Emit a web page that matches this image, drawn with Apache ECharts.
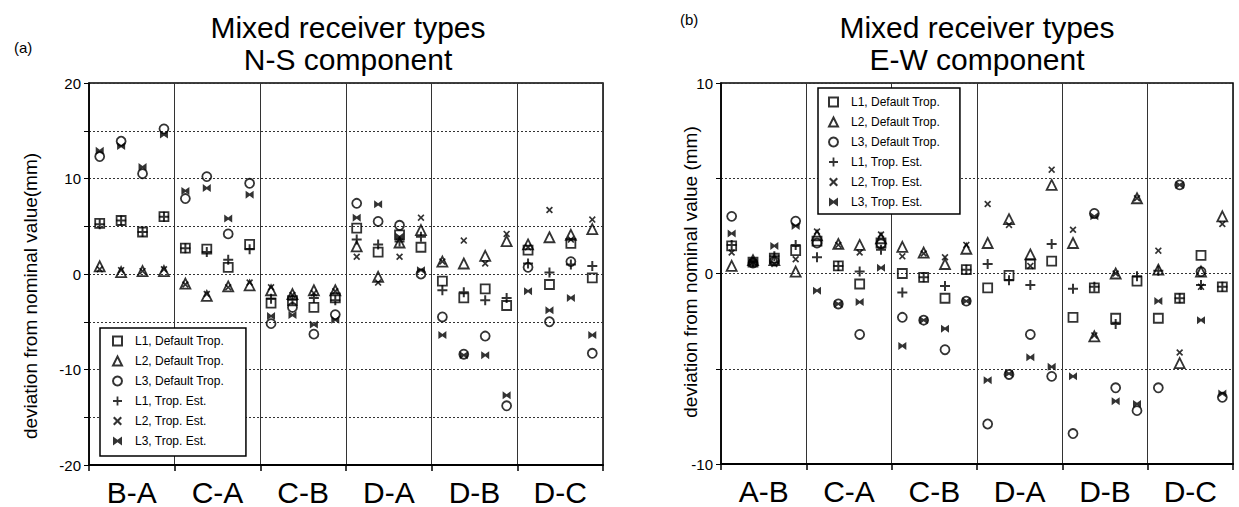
<!DOCTYPE html>
<html>
<head>
<meta charset="utf-8">
<script src="https://cdn.jsdelivr.net/npm/echarts@6/dist/echarts.min.js"></script>
<style>
html,body{margin:0;padding:0;background:#fff;}
#c{width:1239px;height:507px;}
</style>
</head>
<body>
<div id="c"></div>
<script>
// ---------- data ----------
const groupsNS = ['B-A', 'C-A', 'C-B', 'D-A', 'D-B', 'D-C'];
const groupsEW = ['A-B', 'C-A', 'C-B', 'D-A', 'D-B', 'D-C'];
const seriesNames = ['L1, Default Trop.', 'L2, Default Trop.', 'L3, Default Trop.', 'L1, Trop. Est.', 'L2, Trop. Est.', 'L3, Trop. Est.'];
const yTicksNS = [-20, -10, 0, 10, 20];
const yTicksEW = [-10, 0, 10];

// N-S component (mm), 4 baselines per group
const nsL1Default = [5.3, 5.6, 4.4, 6.0,  2.7, 2.6, 0.7, 3.1,  -3.05, -2.8, -3.5, -2.5,  4.8, 2.3, 4.1, 2.8,  -0.75, -2.5, -1.55, -3.3,  2.5, -1.1, 3.2, -0.4];
const nsL2Default = [0.8, 0.2, 0.3, 0.3,  -1.0, -2.3, -1.3, -1.2,  -1.7, -2.1, -1.7, -1.7,  2.9, -0.3, 3.3, 4.6,  1.3, 1.1, 1.9, 3.45,  3.1, 3.85, 4.1, 4.7];
const nsL3Default = [12.3, 13.9, 10.5, 15.2,  7.9, 10.2, 4.2, 9.5,  -5.2, -3.5, -6.3, -4.25,  7.4, 5.5, 5.1, 0.0,  -4.5, -8.4, -6.5, -13.8,  0.7, -5.0, 1.3, -8.3];
const nsL1TropEst = [5.2, 5.6, 4.4, 6.0,  2.7, 2.3, 1.5, 2.6,  -2.6, -2.7, -2.5, -2.75,  3.6, 3.1, 3.4, 3.9,  -1.7, -1.9, -2.75, -2.5,  1.1, 0.15, 1.0, 0.85];
const nsL2TropEst = [0.5, 0.4, 0.3, 0.5,  -1.1, -2.1, -1.4, -0.9,  -1.4, -2.2, -2.0, -1.8,  1.8, -0.9, 1.8, 5.9,  1.3, 3.5, 1.1, 4.2,  2.8, 6.7, 3.6, 5.7];
const nsL3TropEst = [12.9, 13.4, 11.2, 14.6,  8.7, 9.0, 5.8, 8.3,  -4.4, -4.3, -5.3, -4.8,  5.9, 7.3, 3.9, 0.4,  -6.4, -8.5, -8.5, -12.7,  -1.8, -3.8, -2.5, -6.4];

// E-W component (mm)
const ewL1Default = [1.45, 0.6, 0.8, 1.2,  1.7, 0.4, -0.55, 1.6,  0.0, -0.2, -1.3, 0.2,  -0.75, -0.1, 0.5, 0.65,  -2.3, -0.75, -2.35, -0.4,  -2.35, -1.3, 0.95, -0.7];
const ewL2Default = [0.4, 0.7, 0.7, 0.1,  2.0, 1.55, 1.5, 1.85,  1.4, 1.1, 0.5, 1.3,  1.6, 2.85, 1.0, 4.65,  1.6, -3.3, 0.0, 3.95,  0.2, -4.7, 0.1, 3.0];
const ewL3Default = [3.0, 0.55, 0.65, 2.75,  1.6, -1.6, -3.2, 1.55,  -2.3, -2.45, -4.0, -1.45,  -7.9, -5.3, -3.2, -5.4,  -8.4, 3.15, -6.0, -7.2,  -6.0, 4.65, 0.1, -6.5];
const ewL1TropEst = [1.5, 0.6, 0.9, 1.5,  0.85, 0.4, 0.1, 1.25,  -1.0, -0.2, -0.65, 0.2,  0.5, -0.35, -0.6, 1.55,  -0.8, -0.7, -2.65, -0.15,  0.15, -1.3, -0.6, -0.7];
const ewL2TropEst = [1.1, 0.6, 0.5, 0.75,  2.2, 1.5, 1.1, 2.05,  0.9, 1.05, 0.85, 1.5,  3.65, 2.55, 0.4, 5.45,  2.3, -3.25, 0.0, 3.95,  1.2, -4.15, -0.7, 2.6];
const ewL3TropEst = [2.1, 0.6, 1.45, 2.5,  -0.9, -1.6, -1.5, 0.3,  -3.8, -2.45, -2.9, -1.45,  -5.6, -5.25, -4.4, -4.9,  -5.4, 3.0, -6.7, -6.85,  -1.45, 4.65, -2.45, -6.3];

const nsSeries = [nsL1Default, nsL2Default, nsL3Default, nsL1TropEst, nsL2TropEst, nsL3TropEst];
const ewSeries = [ewL1Default, ewL2Default, ewL3Default, ewL1TropEst, ewL2TropEst, ewL3TropEst];

// ---------- styling ----------
const FONT = '"Liberation Sans", Arial, Helvetica, sans-serif';
const PLUS = 'path://M4,0H6V4H10V6H6V10H4V6H0V4H4Z';
const CROSS = 'path://M0,1.7L1.7,0L5,3.3L8.3,0L10,1.7L6.7,5L10,8.3L8.3,10L5,6.7L1.7,10L0,8.3L3.3,5Z';
const BOWTIE = 'path://M0,0L5,3.6L10,0V10L5,6.4L0,10Z';
const markers = [
  {symbol: 'rect', size: 9, hollow: true},
  {symbol: 'triangle', size: 10, hollow: true},
  {symbol: 'circle', size: 9, hollow: true},
  {symbol: PLUS, size: 10, hollow: false},
  {symbol: CROSS, size: 7, hollow: false},
  {symbol: BOWTIE, size: 8, hollow: false}
];

function mkSeries(arrs, idx) {
  return arrs.map((vals, k) => ({
    name: seriesNames[k],
    type: 'scatter',
    xAxisIndex: idx * 2,
    yAxisIndex: idx,
    symbol: markers[k].symbol,
    symbolSize: markers[k].size,
    itemStyle: markers[k].hollow
      ? {color: 'rgba(0,0,0,0)', borderColor: '#000', borderWidth: 1.8}
      : {color: '#000', borderWidth: 0},
    emphasis: {disabled: true},
    z: 5,
    data: vals.map((v, i) => [i + 0.5, v])
  }));
}

function xAxes(gi, groups) {
  return [
    {
      gridIndex: gi, type: 'value', min: 0, max: 24, interval: 4,
      axisLine: {show: true, onZero: false, lineStyle: {color: '#000', width: 2}},
      axisTick: {show: true, length: 6, lineStyle: {color: '#000', width: 1.5}},
      axisLabel: {show: false},
      splitLine: {show: true, lineStyle: {color: '#333', width: 1}}
    },
    {
      gridIndex: gi, type: 'category', data: groups, position: 'bottom',
      axisLine: {show: false}, axisTick: {show: false},
      axisLabel: {fontSize: 30, color: '#000', margin: 12, fontFamily: FONT},
      splitLine: {show: false}
    }
  ];
}

function yAxis(gi, lim) {
  return {
    gridIndex: gi, type: 'value', min: -lim, max: lim, interval: 5,
    axisLine: {show: true, onZero: false, lineStyle: {color: '#000', width: 1.5}},
    axisTick: {show: true, length: 5, lineStyle: {color: '#000', width: 1}},
    axisLabel: {
      fontSize: 15, color: '#000', margin: 8, fontFamily: FONT,
      formatter: v => (v % 10 === 0 ? String(v) : '')
    },
    splitLine: {show: true, lineStyle: {color: '#333', width: 1, type: [2, 2]}}
  };
}

function legend(left, top, pad) {
  return {
    orient: 'vertical', left: left, top: top,
    data: seriesNames,
    itemWidth: 9, itemHeight: 9, itemGap: 6,
    padding: pad,
    borderColor: '#000', borderWidth: 1.5, backgroundColor: '#fff',
    selectedMode: false,
    textStyle: {fontSize: 12, color: '#000', fontFamily: FONT, lineHeight: 14, padding: [0, 0, 0, 8]}
  };
}

const chart = echarts.init(document.getElementById('c'), null, {renderer: 'svg'});
chart.setOption({
  animation: false,
  backgroundColor: '#fff',
  title: [
    {text: 'Mixed receiver types\nN-S component', left: 343, top: 6, textAlign: 'center',
     textStyle: {fontSize: 30, fontWeight: 'normal', color: '#000', fontFamily: FONT, lineHeight: 32}},
    {text: 'Mixed receiver types\nE-W component', left: 972, top: 6, textAlign: 'center',
     textStyle: {fontSize: 30, fontWeight: 'normal', color: '#000', fontFamily: FONT, lineHeight: 32}}
  ],
  graphic: [
    {type: 'text', left: 14, top: 40, style: {text: '(a)', fontSize: 15, fill: '#000', fontFamily: FONT}},
    {type: 'text', left: 680, top: 12, style: {text: '(b)', fontSize: 15, fill: '#000', fontFamily: FONT}},
    {type: 'text', x: 30, y: 296, rotation: Math.PI / 2,
     style: {text: 'deviation from nominal value(mm)', fontSize: 19, fill: '#000', fontFamily: FONT, align: 'center', verticalAlign: 'middle'}},
    {type: 'text', x: 690, y: 272, rotation: Math.PI / 2,
     style: {text: 'deviation from nominal value (mm)', fontSize: 19, fill: '#000', fontFamily: FONT, align: 'center', verticalAlign: 'middle'}}
  ],
  legend: [
    legend(100, 328, [6, 22, 8, 12]),
    legend(818, 88, [7, 20, 5, 10])
  ],
  grid: [
    {left: 89, right: 636, top: 83, bottom: 40, show: true, borderColor: '#000', borderWidth: 1.5, backgroundColor: 'transparent'},
    {left: 721, right: 6, top: 83, bottom: 43, show: true, borderColor: '#000', borderWidth: 1.5, backgroundColor: 'transparent'}
  ],
  xAxis: [].concat(xAxes(0, groupsNS), xAxes(1, groupsEW)),
  yAxis: [yAxis(0, 20), yAxis(1, 10)],
  series: [].concat(mkSeries(nsSeries, 0), mkSeries(ewSeries, 1))
});
</script>
</body>
</html>
